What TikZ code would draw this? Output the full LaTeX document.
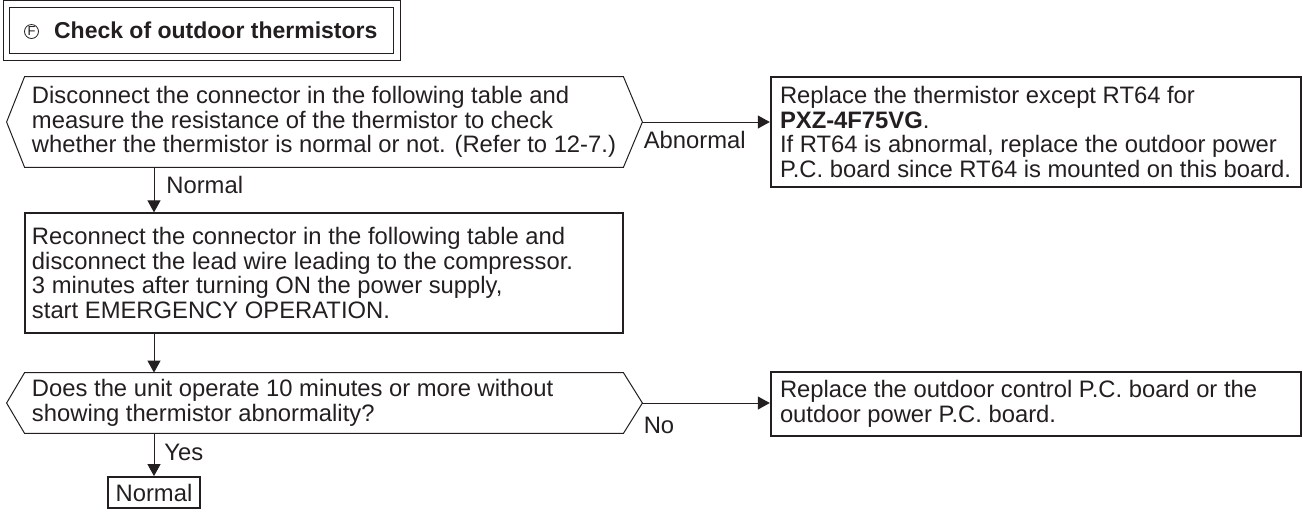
\documentclass[tikz,border=0pt]{standalone}
\usepackage{fontspec}
\setmainfont{Liberation Sans}
\usetikzlibrary{arrows.meta}
\definecolor{ink}{RGB}{35,31,32}

\begin{document}
\begin{tikzpicture}[
  x=0.5pt, y=-0.5pt, color=ink,
  every node/.style={font=\fontsize{11.9}{12.25}\selectfont},
  ask/.style={align=flush left, text width=292pt, inner xsep=3.5pt, inner ysep=0pt},
  box/.style={ask, draw, line width=0.6pt},
  fix/.style={draw, line width=1.2pt, align=flush left, text width=256pt,
              inner xsep=4.5pt, inner ysep=0pt},
  endbox/.style={draw, line width=0.9pt, minimum width=46pt, minimum height=15.5pt,
                 inner sep=0pt},
  edge/.style={line width=0.5pt},
  flow/.style={-{Triangle[length=6pt, width=6.5pt]}, line width=0.5pt},
  lbl/.style={inner sep=0pt, anchor=base west},
]
  \useasboundingbox (0,0) rectangle (1303,511);

  \node[draw, double, double distance=2.75pt, line width=0.5pt,
        minimum width=195.25pt, minimum height=26.5pt, inner xsep=0pt,
        font=\fontsize{11.5}{13}\selectfont\bfseries]
        (title) at (201.75,30.5) {\hspace*{14pt}Check of outdoor thermistors};
  \node[circle, draw, line width=0.4pt, minimum size=7pt, inner sep=0pt,
        font=\fontsize{6.5}{7}\selectfont] (tag) at (31.5,31.5) {F};

  \node[ask, minimum height=45pt] (q1) at (324,122)
    {Disconnect the connector in the following table and\\
     measure the resistance of the thermistor to check\\
     whether the thermistor is normal or not. (Refer to 12-7.)};
  \node[fix, minimum height=55pt] (fix1) at (1036,132)
    {Replace the thermistor except RT64 for\\
     \textbf{PXZ-4F75VG}.\\
     If RT64 is abnormal, replace the outdoor power\\
     P.C. board since RT64 is mounted on this board.};
  \node[box, minimum height=60pt] (p1) at (324,273)
    {Reconnect the connector in the following table and\\
     disconnect the lead wire leading to the compressor.\\
     3 minutes after turning ON the power supply,\\
     start EMERGENCY OPERATION.};
  \node[ask, minimum height=30pt] (q2) at (324,403)
    {Does the unit operate 10 minutes or more without\\
     showing thermistor abnormality?};
  \node[fix, minimum height=32pt] (fix2) at (1036,404)
    {Replace the outdoor control P.C. board or the\\
     outdoor power P.C. board.};
  \node[endbox] (ok1) at (154,492.5) {Normal};

  \coordinate (q1l) at ([xshift=-9pt]q1.west);
  \coordinate (q1r) at ([xshift=9.5pt]q1.east);
  \coordinate (q2l) at ([xshift=-9pt]q2.west);
  \coordinate (q2r) at ([xshift=9.5pt]q2.east);
  \coordinate (q1s) at (ok1 |- q1.south);
  \coordinate (q2s) at (ok1 |- q2.south);

  \draw[edge] (q1.north west) -- (q1.north east) -- (q1r) -- (q1.south east)
    -- (q1.south west) -- (q1l) -- cycle;
  \draw[edge] (q2.north west) -- (q2.north east) -- (q2r) -- (q2.south east)
    -- (q2.south west) -- (q2l) -- cycle;

  \draw[flow] (q1r) -- (q1r -| fix1.west);
  \draw[flow] (q1s) -- (ok1 |- p1.north);
  \draw[flow] (ok1 |- p1.south) -- (ok1 |- q2.north);
  \draw[flow] (q2r) -- (q2r -| fix2.west);
  \draw[flow] (q2s) -- (ok1.north);

  \node[lbl] (abn) at ([xshift=0.5pt, yshift=-13pt]q1r) {Abnormal};
  \node[lbl] (nrm) at ([xshift=6pt, yshift=-13pt]q1s) {Normal};
  \node[lbl] (no) at ([xshift=0.5pt, yshift=-15pt]q2r) {No};
  \node[lbl] (yes) at ([xshift=5pt, yshift=-13.5pt]q2s) {Yes};
\end{tikzpicture}
\end{document}
